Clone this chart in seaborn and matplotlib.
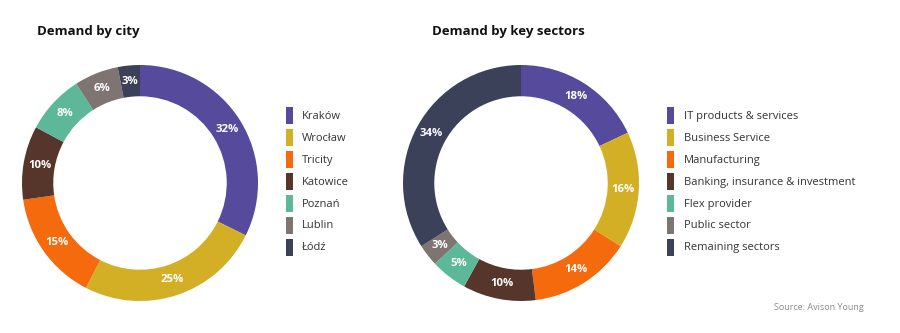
import matplotlib
matplotlib.use("Agg")
import matplotlib.pyplot as plt
from matplotlib.patches import Rectangle
import numpy as np
import seaborn as sns

# Demand by city
city_labels = ["Kraków", "Wrocław", "Tricity", "Katowice", "Poznań", "Lublin", "Łódź"]
city_values = [32, 25, 15, 10, 8, 6, 3]

# Demand by key sectors
sector_labels = ["IT products & services", "Business Service", "Manufacturing",
                 "Banking, insurance & investment", "Flex provider",
                 "Public sector", "Remaining sectors"]
sector_values = [18, 16, 14, 10, 5, 3, 34]

palette = sns.color_palette(["#554A9C", "#D2AF24", "#F56A0C", "#56352A",
                             "#5CB898", "#7E7573", "#3A4158"])

sns.set_theme(style="white")
plt.rcParams["font.family"] = ["Open Sans", "DejaVu Sans"]

W, H = 900, 333
fig = plt.figure(figsize=(W / 100, H / 100), dpi=100)
fig.patch.set_facecolor("white")


def px_axes(cx, cy, r):
    return fig.add_axes([(cx - r) / W, (H - cy - r) / H, 2 * r / W, 2 * r / H])


def donut(ax, values):
    wedges, _ = ax.pie(values, colors=palette, startangle=90, counterclock=False,
                       radius=1.0, wedgeprops=dict(width=0.265, linewidth=0))
    for w, v in zip(wedges, values):
        ang = np.deg2rad((w.theta1 + w.theta2) / 2)
        rr = 0.865
        ax.text(rr * np.cos(ang), rr * np.sin(ang), f"{v}%", ha="center",
                va="center", color="white", fontsize=8.2, fontweight="bold")
    ax.set_xlim(-1, 1)
    ax.set_ylim(-1, 1)
    ax.set_aspect("equal")
    ax.axis("off")


def legend(x_box, x_text, y0, labels):
    step = 21.9
    for i, lab in enumerate(labels):
        y = y0 + i * step
        fig.add_artist(Rectangle(((x_box) / W, (H - y - 8.5) / H), 7 / W, 17 / H,
                                 transform=fig.transFigure, color=palette[i], lw=0))
        fig.text(x_text / W, (H - y - 0.5) / H, lab, ha="left", va="center",
                 fontsize=8.0, color="#333333")


ax1 = px_axes(140, 183, 118)
donut(ax1, city_values)
ax2 = px_axes(521, 183, 118)
donut(ax2, sector_values)

fig.text(37 / W, (H - 31) / H, "Demand by city", ha="left", va="center",
         fontsize=9.5, fontweight="bold", color="#111111")
fig.text(432 / W, (H - 31) / H, "Demand by key sectors", ha="left", va="center",
         fontsize=9.5, fontweight="bold", color="#111111")

legend(286, 302, 116, city_labels)
legend(667, 684, 116, sector_labels)

fig.text(864 / W, (H - 308) / H, "Source: Avison Young", ha="right", va="center",
         fontsize=6.5, color="#8a8a8a")

fig.savefig("out.png", dpi=100, facecolor="white")
